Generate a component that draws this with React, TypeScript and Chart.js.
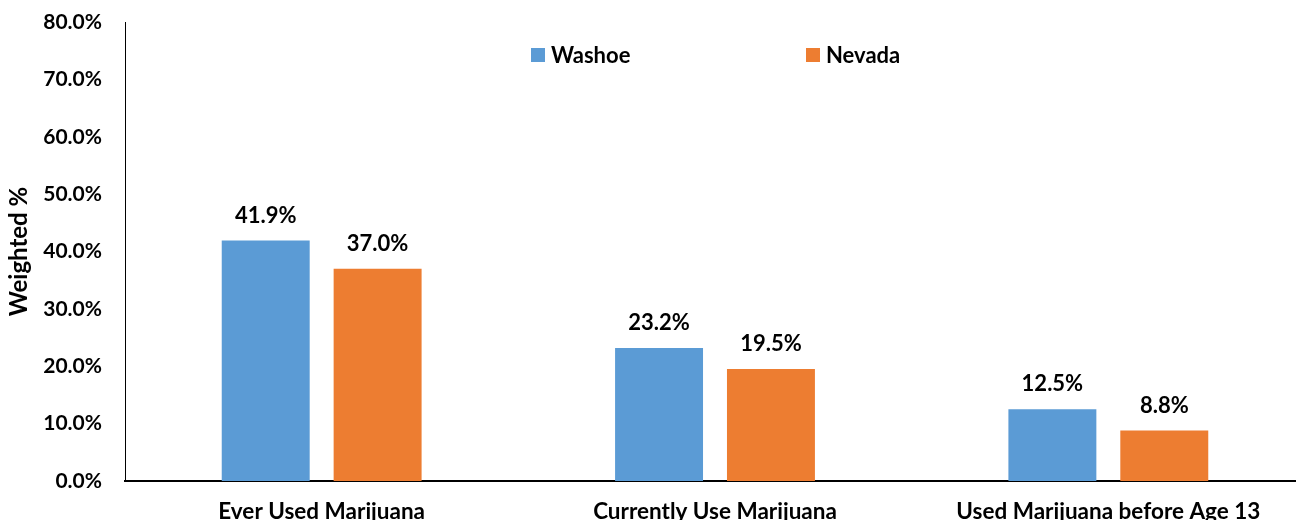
import React, { useEffect, useRef } from "react";
import { Chart, registerables } from "chart.js";

Chart.register(...registerables);

const categories = ["Ever Used Marijuana", "Currently Use Marijuana", "Used Marijuana before Age 13"];
const washoe = [41.9, 23.2, 12.5];
const nevada = [37.0, 19.5, 8.8];
const seriesNames = ["Washoe", "Nevada"];
const colors = ["#5B9BD5", "#ED7D31"];
const yTicks = [0, 10, 20, 30, 40, 50, 60, 70, 80];

const FONT = "Lato, 'Open Sans', sans-serif";

const labelsPlugin = {
  id: "valueLabels",
  afterDatasetsDraw(chart: any) {
    const ctx = chart.ctx;
    ctx.save();
    ctx.font = `bold 22px ${FONT}`;
    ctx.fillStyle = "#000";
    ctx.textAlign = "center";
    ctx.textBaseline = "alphabetic";
    chart.data.datasets.forEach((ds: any, i: number) => {
      const meta = chart.getDatasetMeta(i);
      meta.data.forEach((bar: any, j: number) => {
        ctx.fillText(ds.data[j].toFixed(1) + "%", bar.x, bar.y - 18);
      });
    });
    ctx.restore();
  },
};

const legendPlugin = {
  id: "customLegend",
  afterDraw(chart: any) {
    const ctx = chart.ctx;
    ctx.save();
    ctx.font = `bold 22px ${FONT}`;
    ctx.textBaseline = "middle";
    ctx.textAlign = "left";
    const xs = [531, 806];
    const y = 55;
    chart.data.datasets.forEach((ds: any, i: number) => {
      ctx.fillStyle = ds.backgroundColor;
      ctx.fillRect(xs[i], y - 7, 14, 14);
      ctx.fillStyle = "#000";
      ctx.fillText(ds.label, xs[i] + 20, y + 1);
    });
    ctx.restore();
  },
};

export default function App() {
  const ref = useRef<HTMLCanvasElement>(null);
  useEffect(() => {
    if (!ref.current) return;
    const chart = new Chart(ref.current, {
      type: "bar",
      data: {
        labels: categories,
        datasets: [
          { label: seriesNames[0], data: washoe, backgroundColor: colors[0], categoryPercentage: 0.569, barPercentage: 0.786 },
          { label: seriesNames[1], data: nevada, backgroundColor: colors[1], categoryPercentage: 0.569, barPercentage: 0.786 },
        ],
      },
      options: {
        animation: false,
        responsive: false,
        maintainAspectRatio: false,
        layout: { autoPadding: false, padding: { top: 22, left: 0, right: 0, bottom: 0 } },
        plugins: { legend: { display: false }, tooltip: { enabled: false } },
        scales: {
          x: {
            grid: { display: false, drawTicks: false },
            border: { color: "#000", width: 2 },
            ticks: { color: "#000", font: { family: FONT, size: 22.5, weight: "bold" }, padding: 17, maxRotation: 0 },
            afterFit: (s: any) => { s.height = 49; s.paddingLeft = 0; s.paddingRight = 0; },
          },
          y: {
            min: 0,
            max: 80,
            grid: { display: false, drawTicks: false },
            border: { color: "#000", width: 1 },
            afterBuildTicks: (s: any) => { s.ticks = yTicks.map((v) => ({ value: v })); },
            ticks: {
              color: "#000",
              font: { family: FONT, size: 21, weight: "bold" },
              padding: 23,
              callback: (v: any) => Number(v).toFixed(1) + "%",
            },
            title: {
              display: true,
              text: "Weighted %",
              color: "#000",
              font: { family: FONT, size: 24, weight: "bold" },
              padding: { top: 5, bottom: 0 },
            },
            afterFit: (s: any) => { s.width = 125; s.paddingTop = 0; s.paddingBottom = 0; },
          },
        },
      },
      plugins: [labelsPlugin, legendPlugin],
    } as any);
    return () => chart.destroy();
  }, []);
  return (
    <div style={{ position: "fixed", left: 0, top: 0, width: 1296, height: 520, overflow: "hidden", background: "#fff" }}>
      <canvas ref={ref} width={1305} height={530} style={{ display: "block" }} />
    </div>
  );
}
